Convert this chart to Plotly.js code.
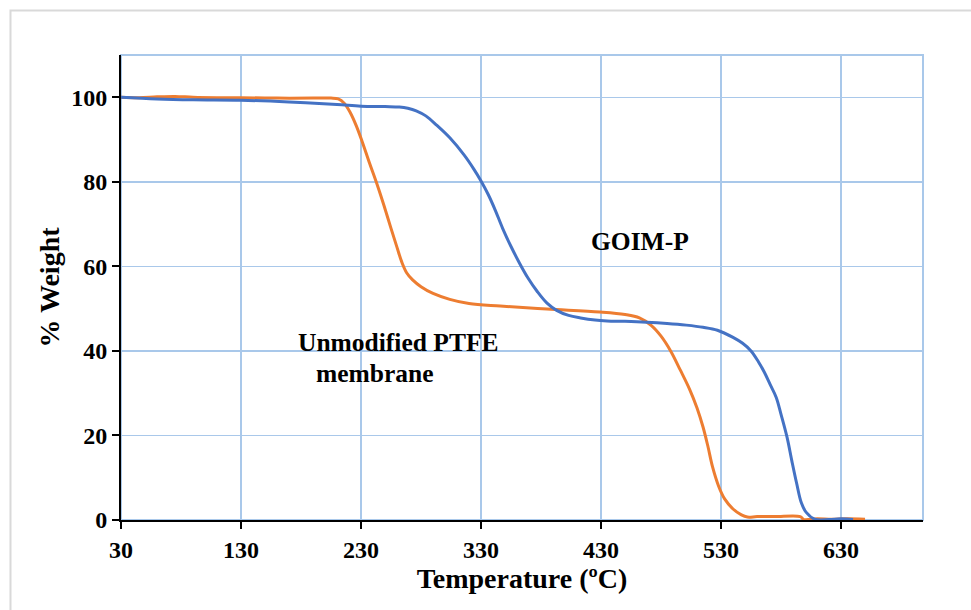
<!DOCTYPE html>
<html>
<head>
<meta charset="utf-8">
<script src="https://cdn.plot.ly/plotly-3.0.1.min.js"></script>
<style>html,body{margin:0;padding:0;background:#fff;}#chart{width:971px;height:610px;}</style>
</head>
<body>
<div id="chart"></div>
<script>
// Unmodified PTFE membrane (orange)
const ptfeTemp = [30, 45, 60, 75, 90, 110, 130, 160, 190, 205, 211, 216, 221, 226, 231, 237, 243, 249, 255, 260, 264, 268, 273, 280, 290, 304, 320, 346, 385, 429, 450, 462, 472, 480, 488, 496, 504, 510, 515, 519, 523, 528, 533, 540, 547, 552, 560, 575, 596, 599, 610, 622, 635, 650];
const ptfeWeight = [100, 99.9, 100.1, 100.2, 100, 99.9, 99.9, 99.8, 99.8, 99.8, 99.6, 98.6, 96.4, 93.3, 89.5, 84.5, 79.7, 74.5, 69, 64.5, 61, 58.5, 56.8, 55.2, 53.6, 52.2, 51.2, 50.6, 49.9, 49.2, 48.6, 47.8, 46, 43.5, 40, 35.5, 30.8, 26.5, 22, 17.5, 12.5, 8, 5, 2.6, 1.2, 0.7, 0.8, 0.8, 0.8, 0.1, 0.3, 0.2, 0.3, 0.2];

// GOIM-P (blue)
const goimTemp = [30, 60, 90, 130, 170, 210, 230, 250, 262, 269, 276, 284, 293, 304, 316, 324, 330, 336, 342, 348, 355, 362, 369, 377, 385, 393, 403, 413, 425, 435, 450, 468, 485, 501, 515, 527, 540, 548, 555, 561, 566, 571, 576, 580, 585, 589, 593, 597, 601, 608, 620, 630, 640];
const goimWeight = [100, 99.6, 99.4, 99.3, 98.9, 98.3, 97.9, 97.8, 97.7, 97.4, 96.8, 95.6, 93.4, 90.4, 86.3, 83, 80.2, 77, 73.2, 69, 64.7, 60.8, 57.3, 54, 51.3, 49.6, 48.4, 47.8, 47.3, 47.1, 47, 46.8, 46.5, 46.1, 45.6, 44.9, 43.2, 41.8, 40, 37.5, 35, 32, 29, 25, 19.6, 14, 8.7, 4, 1.8, 0.2, 0.1, 0.3, 0.1];

const xTickVals = [30, 130, 230, 330, 430, 530, 630];
const yTickVals = [0, 20, 40, 60, 80, 100];

const gridColor = '#a9c8ea';
const font = '"Liberation Serif", "Times New Roman", serif';

const traces = [
  {x: ptfeTemp, y: ptfeWeight, mode: 'lines', name: 'Unmodified PTFE membrane',
   line: {color: '#ED7D31', width: 3, shape: 'spline', smoothing: 1}},
  {x: goimTemp, y: goimWeight, mode: 'lines', name: 'GOIM-P',
   line: {color: '#4472C4', width: 3, shape: 'spline', smoothing: 1}}
];

const layout = {
  width: 971, height: 610,
  margin: {l: 121, r: 48, t: 55, b: 90},
  paper_bgcolor: '#fff', plot_bgcolor: '#fff',
  showlegend: false,
  font: {family: font, color: '#000'},
  xaxis: {
    range: [30, 698.3], tickvals: xTickVals, ticktext: xTickVals.map(String),
    showgrid: true, gridcolor: gridColor, gridwidth: 1.5,
    showline: true, linecolor: '#000', linewidth: 2,
    ticks: 'outside', ticklen: 7, tickwidth: 2, tickcolor: '#000',
    zeroline: false,
    tickfont: {family: font, size: 24, color: '#000', weight: 'bold'},
    title: {text: '<b>Temperature (ºC)</b>', font: {family: font, size: 28, color: '#000'}, standoff: 6}
  },
  yaxis: {
    range: [0, 110], tickvals: yTickVals, ticktext: yTickVals.map(String),
    showgrid: true, gridcolor: gridColor, gridwidth: 1.5,
    showline: true, linecolor: '#000', linewidth: 2,
    ticks: 'outside', ticklen: 7, tickwidth: 2, tickcolor: '#000',
    zeroline: false,
    tickfont: {family: font, size: 24, color: '#000', weight: 'bold'},
    title: {text: '<b>% Weight</b>', font: {family: font, size: 28, color: '#000'}, standoff: 3}
  },
  shapes: [
    {type: 'rect', xref: 'paper', yref: 'paper', x0: 0, x1: 1, y0: 0, y1: 1,
     line: {color: gridColor, width: 2}, layer: 'below'},
    {type: 'rect', xref: 'paper', yref: 'paper', x0: -0.1378, x1: 1.07, y0: -0.21, y1: 1.0957,
     line: {color: '#d9d9d9', width: 2}, layer: 'below'}
  ],
  annotations: [
    {x: 462.5, y: 65.8, xref: 'x', yref: 'y', text: '<b>GOIM-P</b>', showarrow: false,
     font: {family: font, size: 25.5, color: '#000'}},
    {x: 260.8, y: 42.1, xref: 'x', yref: 'y', text: '<b>Unmodified PTFE</b>', showarrow: false,
     font: {family: font, size: 25.5, color: '#000'}},
    {x: 241.7, y: 34.7, xref: 'x', yref: 'y', text: '<b>membrane</b>', showarrow: false,
     font: {family: font, size: 25.5, color: '#000'}}
  ]
};

Plotly.newPlot('chart', traces, layout, {displayModeBar: false, staticPlot: true});
</script>
</body>
</html>
